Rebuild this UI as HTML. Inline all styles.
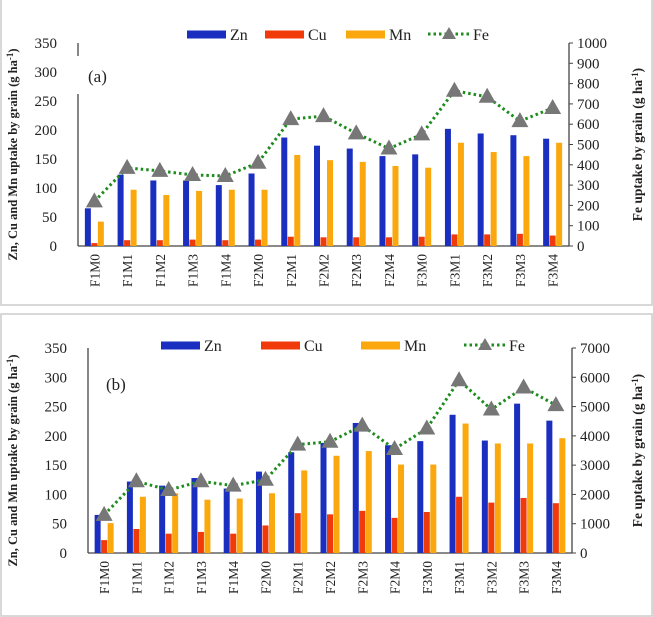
<!DOCTYPE html>
<html><head><meta charset="utf-8"><style>
body{margin:0;background:#fff;}
svg{display:block;font-family:"Liberation Serif",serif;}
</style></head><body>
<svg id="s" width="653" height="617"></svg>
<script>
const categories=["F1M0","F1M1","F1M2","F1M3","F1M4","F2M0","F2M1","F2M2","F2M3","F2M4","F3M0","F3M1","F3M2","F3M3","F3M4"];
const znA=[65,123,113,113,105,125,187,173,168,155,158,202,194,191,185];
const cuA=[5,10,10,11,10,11,16,15,15,15,16,20,20,21,18];
const mnA=[42,97,88,95,97,97,157,148,145,138,135,178,162,155,178];
const feA=[220,385,370,350,345,410,625,640,555,480,550,765,735,615,680];
const znB=[65,122,115,128,110,139,172,188,222,184,191,236,192,255,226];
const cuB=[22,41,33,36,33,47,68,66,72,60,70,96,86,94,85];
const mnB=[51,96,102,91,93,102,141,166,174,151,151,221,187,187,196];
const feB=[1300,2450,2150,2450,2300,2500,3700,3800,4350,3550,4250,5900,4900,5650,5050];
const leftTicks=[0,50,100,150,200,250,300,350];
const rightTicksA=[0,100,200,300,400,500,600,700,800,900,1000];
const rightTicksB=[0,1000,2000,3000,4000,5000,6000,7000];

const NS="http://www.w3.org/2000/svg";
const svg=document.getElementById('s');
function el(tag,attrs,parent,text){const e=document.createElementNS(NS,tag);for(const k in attrs)e.setAttribute(k,attrs[k]);if(text!==undefined)e.textContent=text;(parent||svg).appendChild(e);return e;}

function chart(c){
  const g=el('g',{});
  
  
  const x0=c.x0,x1=c.x1,yT=c.yT,yB=c.yB;
  const step=(x1-x0)/categories.length;
  const yL=v=>yB-v/350*(yB-yT);
  const yR=v=>yB-v/c.rMax*(yB-yT);
  const cx=i=>x0+step*(i+0.5);
  const pb=el('rect',{x:c.px,y:c.py,width:c.pw,height:c.ph,fill:'none',stroke:'#ccc','stroke-width':1.5},g);
  
  if(c.broken){
    el('line',{x1:x0,y1:yT,x2:x0,y2:yT+13,stroke:'#444','stroke-width':1.3},g);
    el('line',{x1:x0,y1:yT+51,x2:x0,y2:yB,stroke:'#444','stroke-width':1.3},g);
  } else el('line',{x1:x0,y1:yT,x2:x0,y2:yB,stroke:'#444','stroke-width':1.3},g);
  const xa=el('line',{x1:x0,y1:yB,x2:x1,y2:yB,stroke:'#444','stroke-width':1.3},g);
  
  el('line',{x1:x1,y1:yT,x2:x1,y2:yB,stroke:'#444','stroke-width':1.3},g);
  leftTicks.forEach(v=>{
    const t=el('text',{x:x0-21,y:yL(v)+5,'text-anchor':'end','font-size':15,fill:'#222'},g,v);
    
  });
  c.rTicks.forEach(v=>{
    el('line',{x1:x1,y1:yR(v),x2:x1+4,y2:yR(v),stroke:'#444'},g);
    const t=el('text',{x:x1+8,y:yR(v)+5,'text-anchor':'start','font-size':15,fill:'#222'},g,v);
    
  });
  const series=[[c.zn,'#1a2fbf',-9.5],[c.cu,'#f03a0a',-3],[c.mn,'#fba80e',3.5]];
  series.forEach(([arr,col,off],si)=>{
    arr.forEach((v,i)=>{
      const r=el('rect',{x:cx(i)+off,y:yL(v),width:6,height:yB-yL(v),fill:col},g);
      
      
    });
  });
  const pts=c.fe.map((v,i)=>cx(i)+','+yR(v)).join(' ');
  const pl=el('polyline',{points:pts,fill:'none',stroke:'#1d8c1d','stroke-width':3,'stroke-dasharray':'2.5 3'},g);
  
  c.fe.forEach((v,i)=>{
    const x=cx(i),y=yR(v);
    const m=el('polygon',{points:`${x},${y-9} ${x-8.5},${y+6} ${x+8.5},${y+6}`,fill:'#777'},g);
    
    
  });
  categories.forEach((cat,i)=>{
    const x=cx(i)+5,y=yB+8;
    const t=el('text',{x:x,y:y,transform:`rotate(-90 ${x} ${y})`,'text-anchor':'end','font-size':13.5,fill:'#222'},g,cat);
    
  });
  const lx=17,ly=(yT+yB)/2+10;
  const lt=el('text',{x:lx,y:ly,transform:`rotate(-90 ${lx} ${ly})`,'text-anchor':'middle','font-size':12.5,'font-weight':'bold',fill:'#222'},g);
  lt.innerHTML='Zn, Cu and Mn uptake by grain (g ha<tspan dy="-4" font-size="9">-1</tspan><tspan dy="4">)</tspan>';
  
  const rx=642,ry=(yT+yB)/2;
  const rt=el('text',{x:rx,y:ry,transform:`rotate(-90 ${rx} ${ry})`,'text-anchor':'middle','font-size':13.5,'font-weight':'bold',fill:'#222'},g);
  rt.innerHTML='Fe uptake by grain (g ha<tspan dy="-4" font-size="9">-1</tspan><tspan dy="4">)</tspan>';
  
  const pl2=el('text',{x:c.lab[0],y:c.lab[1],'font-size':17,fill:'#222'},g,c.label);
  
  const L=c.leg,ly2=c.legY;
  const lg=el('g',{},g);
  
  [['Zn','#1a2fbf'],['Cu','#f03a0a'],['Mn','#fba80e']].forEach(([n,col],k)=>{
    el('rect',{x:L[k],y:ly2-3.5,width:39,height:8,fill:col},lg);
    const t=el('text',{x:L[k]+43,y:ly2+6,'font-size':16,fill:'#222'},lg,n);
    
  });
  el('line',{x1:L[3],y1:ly2,x2:L[3]+42,y2:ly2,stroke:'#1d8c1d','stroke-width':3,'stroke-dasharray':'2.5 3'},lg);
  const mx=L[3]+21;
  el('polygon',{points:`${mx},${ly2-7} ${mx-7},${ly2+5} ${mx+7},${ly2+5}`,fill:'#777'},lg);
  const ft=el('text',{x:L[3]+45,y:ly2+6,'font-size':16,fill:'#222'},lg,'Fe');
  
}
chart({name:'chart-a',x0:78,x1:569,yT:43,yB:246,rMax:1000,rTicks:rightTicksA,zn:znA,cu:cuA,mn:mnA,fe:feA,broken:true,label:'(a)',lab:[88,82],leg:[187,265,346,428],legY:34,px:1,py:-2,pw:651,ph:307});
chart({name:'chart-b',x0:88,x1:572,yT:348,yB:553,rMax:7000,rTicks:rightTicksB,zn:znB,cu:cuB,mn:mnB,fe:feB,broken:false,label:'(b)',lab:[106,390],leg:[161,261,361,464],legY:345,px:1,py:314,pw:651,ph:302});
</script>
</body></html>
